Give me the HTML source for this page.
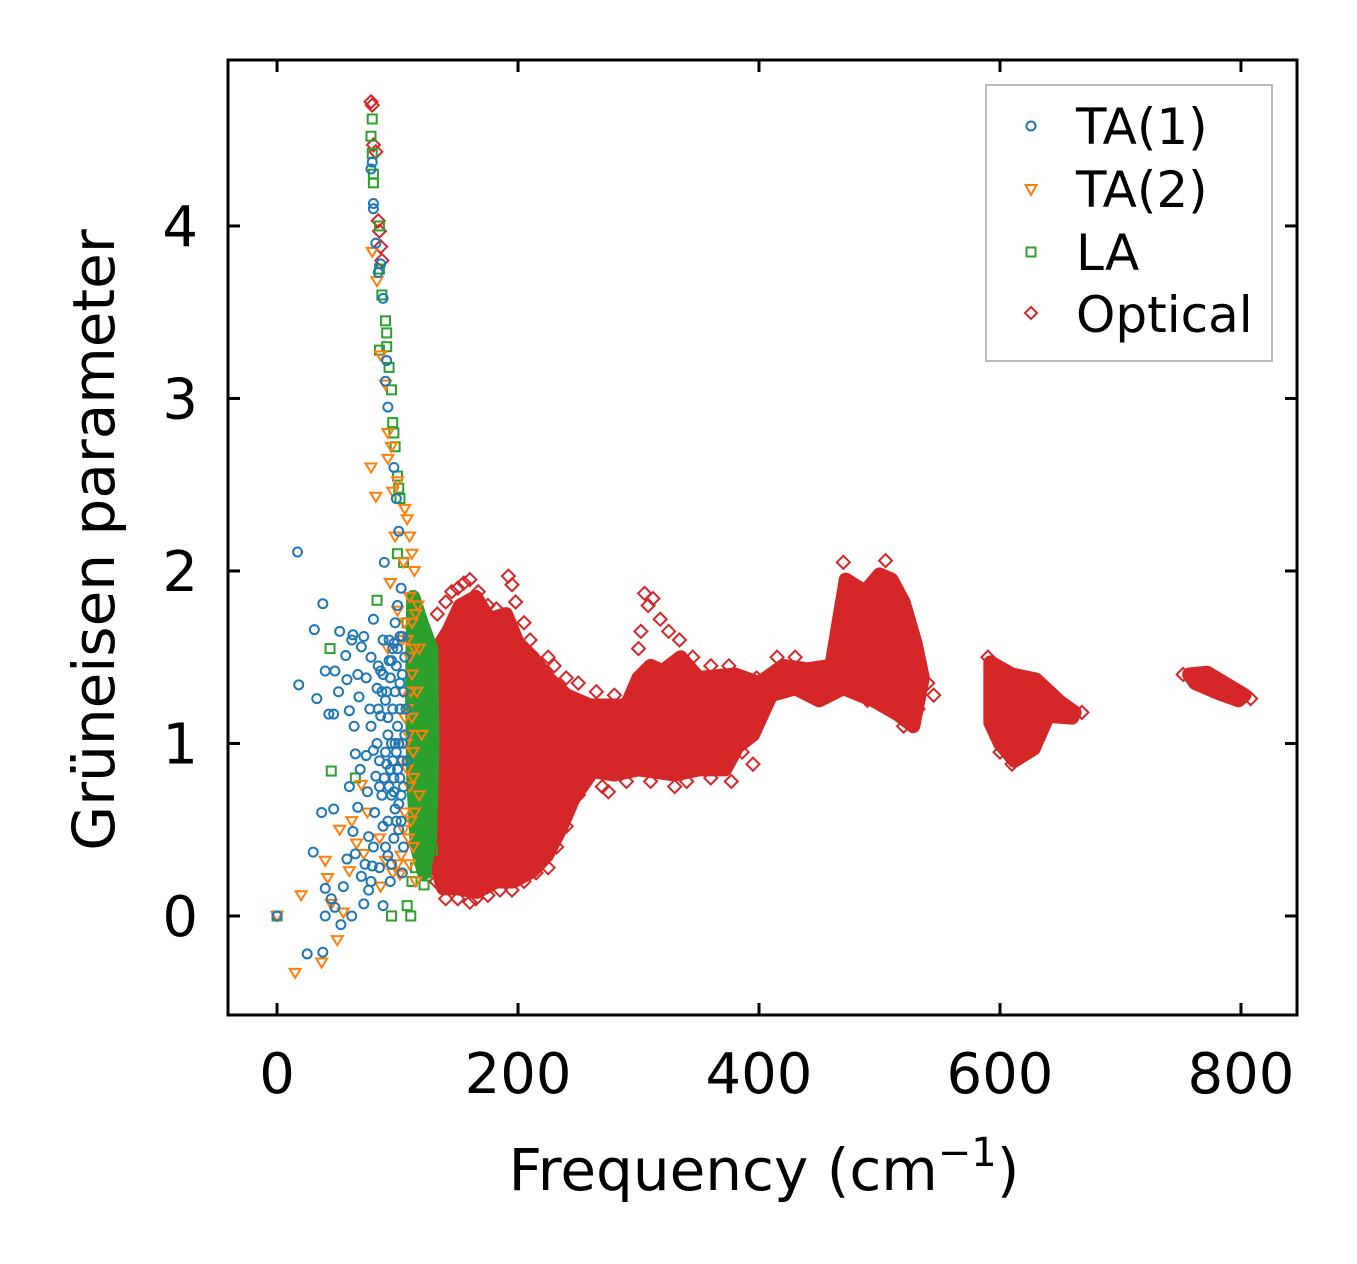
<!DOCTYPE html>
<html><head><meta charset="utf-8"><style>
html,body{margin:0;padding:0;background:#fff;}
svg{display:block;font-family:"DejaVu Sans","Liberation Sans",sans-serif;}
</style></head><body>
<svg id="chart" width="1357" height="1264" viewBox="0 0 1357 1264" xmlns="http://www.w3.org/2000/svg">
<rect width="1357" height="1264" fill="#fff"/>
<g id="marks"></g>
<g id="axes"></g>
<text x="764" y="1190" font-size="58" text-anchor="middle">Frequency (cm<tspan dy="-24" font-size="40">−1</tspan><tspan dy="24">)</tspan></text>
<text transform="translate(114,540) rotate(-90)" font-size="58" text-anchor="middle">Grüneisen parameter</text>
<g>
<rect x="986" y="85" width="286" height="276" fill="#fff" stroke="#bbb" stroke-width="2"/>
<circle cx="1031" cy="126" r="4.5" fill="none" stroke="#1f77b4" stroke-width="2"/>
<text x="1076" y="144" font-size="50">TA(1)</text>
<path d="M1025.5,185 L1036.5,185 L1031,195 Z" fill="none" stroke="#ff7f0e" stroke-width="2"/>
<text x="1076" y="207" font-size="50">TA(2)</text>
<rect x="1026.5" y="247.5" width="9" height="9" fill="none" stroke="#2ca02c" stroke-width="2"/>
<text x="1076" y="270" font-size="50">LA</text>
<path d="M1031,307 L1037,313 L1031,319 L1025,313 Z" fill="none" stroke="#d62728" stroke-width="2"/>
<text x="1076" y="332" font-size="50">Optical</text>
</g>
</svg>
<script>
// ---- data ----
const xTicks = [0, 200, 400, 600, 800];
const yTicks = [0, 1, 2, 3, 4];
const ta1 = [[0,0],[17,2.11],[18,1.34],[25,-0.22],[30,0.37],[31,1.66],[33,1.26],[38,1.81],[37,0.6],[38,-0.21],[40,1.42],[40,0.16],[40,0],[43,1.17],[45,0.1],[47,0.62],[47,1.17],[48,1.42],[48,0.05],[51,1.3],[52,1.65],[53,-0.05],[55,0.17],[57,1.51],[58,0.33],[58,1.37],[60,1.19],[60,0.75],[62,1.6],[62,0.0],[63,1.63],[63,0.49],[64,1.1],[65,0.94],[65,0.36],[67,1.4],[67,0.63],[68,1.27],[69,0.85],[70,1.56],[70,0.23],[72,1.62],[72,0.07],[74,0.93],[74,1.38],[75,0.72],[76,0.46],[77,1.2],[78,1.1],[78,1.5],[79,0.29],[80,1.72],[80,0.96],[81,0.6],[82,0.81],[83,1.32],[84,1.45],[85,0.9],[85,0.28],[86,1.16],[87,0.7],[88,1.6],[88,0.06],[89,2.05],[90,0.95],[91,1.3],[92,0.55],[92,1.05],[93,1.48],[94,0.85],[95,0.3],[96,1.2],[97,0.72],[97,1.58],[98,1.0],[99,0.95],[100,1.1],[100,1.8],[101,0.5],[102,0.8],[102,1.35],[103,1.9],[104,1.0],[105,0.4],[105,0.75],[106,1.5],[107,1.2],[108,0.9],[92,2.95],[90,3.1],[91,3.22],[88,3.58],[86,3.78],[84,3.73],[82,3.9],[80,4.1],[80,4.13],[78,4.33],[79,4.37],[97,2.6],[99,2.42],[101,2.23],[104,1.62],[98,0.62],
  [88,1.4],[90,1.25],[92,1.15],[94,1.38],[95,1.0],[96,0.9],[97,0.8],[98,1.3],[99,1.45],[100,0.85],[101,1.0],[102,1.2],[103,0.7],[104,1.4],[95,0.7],[93,0.75],[91,0.88],[89,0.8],[87,1.3],[96,1.55],[98,1.7],[100,1.55],[102,1.62],[104,0.9],[106,1.05],[99,0.55],[97,0.45],[95,1.48],[93,1.6],[101,0.65],[86,1.42],[84,1.2],[83,1.0],[85,0.75],[88,0.52],[90,0.4],[92,0.35],[94,0.2],[80,0.4],[78,0.2],[76,0.15],[73,0.3],[104,0.25],[103,0.55],[105,1.3]];
const ta2 = [[0,0],[15,-0.33],[20,0.12],[37,-0.27],[40,0.32],[42,0.22],[45,0.07],[50,-0.14],[52,0.5],[55,0.02],[60,0.26],[62,0.55],[66,0.42],[70,0.76],[72,0.36],[75,0.6],[78,2.6],[82,2.43],[85,0.45],[86,0.17],[90,0.32],[92,1.55],[92,2.65],[94,1.93],[96,2.46],[98,2.2],[100,1.77],[103,0.9],[104,1.6],[105,2.05],[106,0.6],[108,1.2],[108,2.3],[110,1.85],[110,0.3],[112,1.4],[112,2.1],[113,0.95],[115,1.75],[115,0.2],[116,1.3],[118,0.7],[118,1.55],[120,1.05],[79,3.85],[83,3.68],[86,3.25],[90,3.08],[92,2.8],[95,2.72],[100,2.52],[106,2.36],[110,2.2],[114,2.0],[117,1.8],[107,1.0],[109,0.45],[102,0.24],
  [106,1.7],[108,1.6],[110,1.5],[111,1.3],[112,1.15],[113,0.8],[114,0.6],[110,0.75],[108,0.85],[106,1.15],[104,1.3],[109,1.05],[111,0.55],[113,0.4],[105,0.5],[103,0.35],[100,0.3],[96,0.25],[112,1.7],[114,1.55]];
const la = [[0,0],[44,1.55],[45,0.84],[65,0.8],[79,4.62],[78,4.52],[79,4.42],[80,4.3],[80,4.25],[85,4.0],[85,3.75],[87,3.6],[90,3.45],[91,3.38],[91,3.3],[85,3.28],[93,3.18],[95,3.05],[96,2.86],[97,2.8],[98,2.72],[100,2.55],[101,2.48],[102,2.42],[83,1.83],[100,2.1],[105,2.05],[108,1.7],[95,0.0],[108,0.06],[111,0.0],[112,0.2],[115,0.28],[116,0.42],[118,0.6],[120,0.92],[121,1.22],[122,1.38],[123,0.4],[125,1.05],[126,0.7],[127,1.55],[128,0.9],[129,0.38],[122,0.18],[119,1.65],[118,1.1],[124,0.25],[126,1.3],[120,0.5]];
const laBand = [[113,1.85],[120,1.7],[128,1.55],[129,1.0],[127,0.45],[122,0.25],[116,0.4],[113,0.8],[112,1.3]];
const optBlob1 = [[133,1.55],[142,1.65],[152,1.8],[165,1.85],[176,1.72],[190,1.75],[200,1.58],[212,1.5],[225,1.38],[240,1.28],[260,1.22],[290,1.22],[300,1.38],[310,1.45],[320,1.42],[335,1.5],[350,1.38],[380,1.4],[400,1.35],[420,1.45],[440,1.43],[460,1.45],[472,1.95],[488,1.88],[500,1.98],[510,1.95],[520,1.82],[530,1.58],[536,1.38],[528,1.1],[515,1.17],[495,1.25],[470,1.32],[450,1.25],[430,1.32],[410,1.28],[395,1.05],[382,0.98],[372,0.85],[350,0.85],[330,0.82],[300,0.85],[280,0.82],[262,0.84],[246,0.68],[235,0.5],[224,0.35],[212,0.26],[196,0.2],[182,0.2],[166,0.14],[150,0.16],[138,0.16],[132,0.3]];
const optBlob2 = [[592,1.47],[610,1.4],[630,1.37],[650,1.24],[662,1.18],[660,1.15],[640,1.16],[628,0.97],[612,0.9],[600,1.0],[592,1.12]];
const optBlob3 = [[757,1.4],[772,1.41],[803,1.28],[798,1.25],[782,1.29],[762,1.35]];
const optical = [[78,4.72],[79,4.7],[80,4.47],[82,4.43],[84,4.03],[85,3.97],[86,3.88],[87,3.8],[133,1.75],[140,1.82],[145,1.88],[150,1.9],[155,1.93],[160,1.95],[167,1.88],[175,1.8],[182,1.78],[192,1.97],[195,1.92],[198,1.82],[205,1.7],[210,1.6],[225,1.5],[230,1.45],[240,1.38],[250,1.35],[265,1.3],[280,1.28],[300,1.55],[302,1.65],[305,1.87],[308,1.8],[312,1.84],[318,1.72],[325,1.65],[334,1.6],[345,1.5],[360,1.45],[375,1.45],[398,1.38],[415,1.5],[430,1.5],[470,2.05],[505,2.06],[490,1.25],[520,1.1],[540,1.35],[532,1.2],[545,1.28],[140,0.1],[150,0.1],[160,0.08],[165,0.1],[175,0.12],[185,0.15],[195,0.15],[205,0.2],[215,0.25],[225,0.28],[232,0.4],[240,0.52],[250,0.7],[270,0.75],[275,0.72],[290,0.78],[310,0.78],[330,0.75],[340,0.78],[360,0.8],[377,0.78],[395,0.88],[400,1.15],[386,0.95],[130,0.45],[132,0.2],[590,1.5],[600,0.95],[610,0.88],[655,1.2],[668,1.18],[808,1.26],[752,1.4]];

// ---- axes ----
const X0 = 228, X1 = 1297, Y0 = 60, Y1 = 1015;
const xmin = -40.7, xmax = 846.5, ymin = -0.574, ymax = 4.962;
const sx = v => X0 + (v - xmin) / (xmax - xmin) * (X1 - X0);
const sy = v => Y1 - (v - ymin) / (ymax - ymin) * (Y1 - Y0);
const NS = "http://www.w3.org/2000/svg";
const marks = document.getElementById('marks');
const axes = document.getElementById('axes');
function mk(tag, attrs, parent) {
  const e = document.createElementNS(NS, tag);
  for (const k in attrs) e.setAttribute(k, attrs[k]);
  parent.appendChild(e);
  return e;
}
function poly(arr, color, name) {
  const p = mk('polygon', {points: arr.map(d => sx(d[0]) + ',' + sy(d[1])).join(' '), fill: color, stroke: color, 'stroke-width': 14, 'stroke-linejoin': 'round'}, marks);
  
  
}
function drawSeries(arr, type, color, name) {
  arr.forEach(d => {
    const x = sx(d[0]), y = sy(d[1]);
    let e;
    if (type === 'circle') e = mk('circle', {cx: x, cy: y, r: 4.5}, marks);
    else if (type === 'tri') e = mk('path', {d: `M${x-5.5},${y-4} L${x+5.5},${y-4} L${x},${y+5} Z`}, marks);
    else if (type === 'square') e = mk('rect', {x: x-4.5, y: y-4.5, width: 9, height: 9}, marks);
    else e = mk('path', {d: `M${x},${y-6.5} L${x+6.5},${y} L${x},${y+6.5} L${x-6.5},${y} Z`}, marks);
    e.setAttribute('fill', 'none');
    e.setAttribute('stroke', color);
    e.setAttribute('stroke-width', '2');
    
    
  });
}
poly(optBlob1, '#d62728', 'optical-dense-region-1');
poly(optBlob2, '#d62728', 'optical-dense-region-2');
poly(optBlob3, '#d62728', 'optical-dense-region-3');
drawSeries(optical, 'diamond', '#d62728', 'optical-point');
poly(laBand, '#2ca02c', 'la-dense-region');
drawSeries(la, 'square', '#2ca02c', 'la-point');
drawSeries(ta2, 'tri', '#ff7f0e', 'ta2-point');
drawSeries(ta1, 'circle', '#1f77b4', 'ta1-point');

const frame = mk('rect', {x: X0, y: Y0, width: X1 - X0, height: Y1 - Y0, fill: 'none', stroke: '#000', 'stroke-width': 3}, axes);


xTicks.forEach(v => {
  const x = sx(v);
  mk('line', {x1: x, y1: Y1, x2: x, y2: Y1 - 12, stroke: '#000', 'stroke-width': 3}, axes);
  mk('line', {x1: x, y1: Y0, x2: x, y2: Y0 + 12, stroke: '#000', 'stroke-width': 3}, axes);
  const t = mk('text', {x: x, y: 1093, 'font-size': 56, 'text-anchor': 'middle'}, axes);
  t.textContent = v;
  
  
});
yTicks.forEach(v => {
  const y = sy(v);
  mk('line', {x1: X0, y1: y, x2: X0 + 12, y2: y, stroke: '#000', 'stroke-width': 3}, axes);
  mk('line', {x1: X1, y1: y, x2: X1 - 12, y2: y, stroke: '#000', 'stroke-width': 3}, axes);
  const t = mk('text', {x: 198, y: y + 20, 'font-size': 56, 'text-anchor': 'end'}, axes);
  t.textContent = v;
  
  
});
</script>
</body></html>
